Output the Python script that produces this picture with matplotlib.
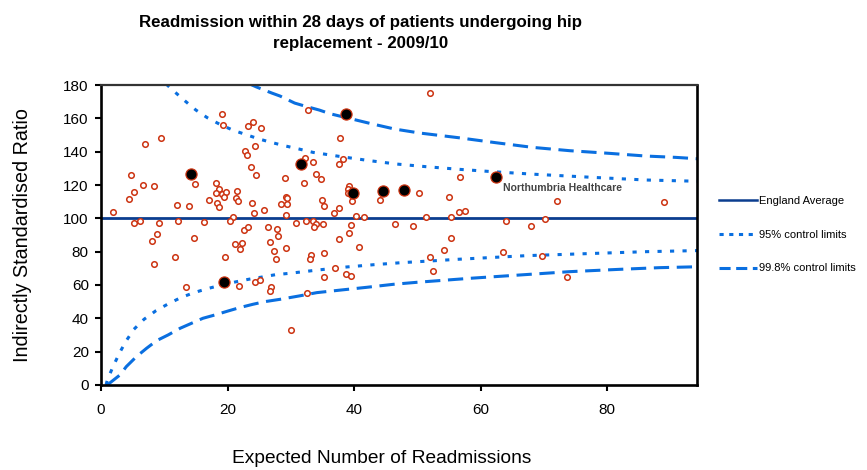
import matplotlib
matplotlib.use("Agg")
import matplotlib.pyplot as plt
from matplotlib.lines import Line2D

plt.rcParams['font.family'] = ['Liberation Sans', 'DejaVu Sans']
plt.rcParams['lines.scale_dashes'] = False

# hospital trusts: expected readmissions vs indirectly standardised ratio
expected = [19.07, 19.27, 23.17, 24.07, 25.27, 9.45, 6.97, 22.74, 23.12, 24.38,
            23.69, 24.54, 29.01, 4.76, 14.92, 6.66, 8.34, 5.14, 4.45, 18.17,
            18.68, 18.17, 19.12, 19.83, 19.42, 21.47, 21.36, 21.70, 17.07, 18.28,
            18.64, 12.02, 13.94, 1.92, 23.85, 24.16, 25.69, 28.49, 29.43, 29.16,
            29.32, 29.27, 20.80, 30.82, 5.14, 6.09, 9.24, 12.13, 16.31, 20.33,
            22.57, 23.20, 26.37, 27.78, 8.86, 8.08, 14.73, 21.17, 22.27, 21.91,
            26.75, 27.93, 27.27, 29.16, 27.70, 8.30, 11.70, 19.54, 13.50, 21.80,
            24.27, 25.17, 26.91, 26.64, 29.95, 51.92, 32.74, 37.73, 32.21, 33.58,
            38.20, 37.57, 32.05, 33.94, 34.73, 56.66, 39.21, 38.99, 38.99, 50.25,
            54.92, 35.00, 35.27, 37.68, 36.78, 39.73, 44.02, 40.25, 41.58, 51.29,
            55.39, 56.61, 57.51, 32.40, 33.47, 34.05, 33.63, 35.16, 39.57, 46.40,
            49.24, 39.26, 37.57, 40.84, 33.26, 33.06, 35.32, 55.30, 54.13, 52.03,
            52.46, 37.00, 38.79, 39.46, 35.21, 32.52, 72.02, 89.05, 63.97, 67.92,
            70.17, 63.50, 69.70, 73.60]
ratio = [162.6, 155.8, 155.2, 157.6, 154.2, 148.4, 144.4, 140.6, 138.2, 143.2,
         130.6, 126.2, 124.0, 126.2, 120.4, 119.8, 119.6, 116.0, 111.6, 121.0,
         117.6, 115.4, 114.9, 115.9, 113.0, 116.4, 112.2, 110.3, 111.1, 109.2,
         107.0, 108.2, 107.4, 104.0, 109.0, 103.2, 104.9, 108.6, 108.6, 112.7,
         112.0, 102.3, 100.8, 97.1, 97.4, 98.2, 97.4, 98.6, 97.9, 98.2,
         93.0, 94.7, 94.7, 93.5, 90.4, 86.6, 88.1, 84.6, 85.0, 81.8,
         85.6, 89.1, 80.2, 82.0, 75.6, 72.4, 76.6, 76.6, 59.0, 59.2,
         61.6, 63.2, 59.0, 56.2, 33.0, 175.0, 164.8, 148.0, 136.4, 133.7,
         135.9, 132.8, 121.4, 126.5, 123.6, 125.0, 119.7, 117.6, 115.0, 115.0,
         112.6, 111.2, 107.6, 106.0, 103.1, 110.4, 111.0, 101.6, 100.8, 101.0,
         100.8, 104.1, 104.2, 98.7, 98.3, 96.6, 95.0, 96.4, 95.8, 96.8,
         95.4, 91.4, 87.5, 83.0, 78.0, 75.6, 79.0, 88.4, 81.0, 76.6,
         68.2, 70.0, 66.8, 65.6, 65.0, 55.0, 110.6, 109.8, 98.2, 95.6,
         99.4, 80.0, 77.4, 64.8]

# highlighted trusts (filled black)
hl_expected = [14.16, 31.56, 38.74, 39.84, 44.57, 47.89, 62.40, 19.38]
hl_ratio = [126.8, 132.8, 162.8, 115.4, 116.6, 116.8, 124.6, 61.6]
hl_label = "Northumbria Healthcare"
hl_label_idx = 6

england_avg = 100

# control limits
u95_x = [10.3, 11.5, 13.3, 15.0, 16.8, 18.7, 20.8, 22.8, 25.0, 27.1, 29.2, 31.3,
         33.5, 38.0, 42.5, 46.7, 51.4, 56.7, 61.9, 68.8, 77.7, 86.2, 95.0]
u95_y = [180.6, 176.4, 170.4, 165.0, 160.4, 156.6, 153.0, 150.4, 147.6, 145.4,
         143.4, 141.6, 139.6, 137.0, 134.6, 132.6, 131.0, 129.4, 128.0, 126.4,
         124.6, 123.0, 122.2]
l95_x = [0.8, 1.0, 1.9, 2.9, 3.9, 5.2, 6.8, 8.7, 10.5, 12.6, 14.7, 16.8, 19.1,
         21.2, 23.3, 25.5, 27.6, 29.8, 34.3, 38.8, 43.2, 47.5, 52.0, 56.3, 67.2,
         78.3, 86.2, 95.0]
l95_y = [0, 3, 11, 19, 26, 33.4, 39.4, 44.6, 48.4, 52.4, 55.4, 57.8, 60.0, 61.8,
         63.4, 64.8, 66.2, 67.0, 69.0, 70.8, 72.2, 73.4, 74.4, 75.4, 77.6, 79.0,
         80.0, 80.7]
u998_x = [23.0, 24.6, 27.0, 28.3, 30.6, 32.2, 34.5, 36.2, 42.5, 46.4, 50.4, 56.5,
          62.4, 68.2, 74.1, 80.4, 86.1, 90.8, 95.0]
u998_y = [181.5, 178.8, 175.2, 173.4, 169.2, 167.4, 165.0, 162.8, 157.0, 153.6,
          151.2, 148.4, 145.4, 142.6, 140.6, 139.0, 137.4, 136.6, 135.6]
l998_x = [1.0, 3.0, 4.0, 5.6, 7.2, 8.8, 10.6, 12.5, 14.3, 16.1, 18.0, 20.1, 21.9,
          24.0, 25.9, 28.3, 31.3, 34.1, 38.0, 42.0, 46.2, 49.9, 54.1, 58.3, 66.2,
          74.1, 82.0, 88.3, 95.0]
l998_y = [0, 6, 11, 17, 22, 26.6, 30, 34, 37, 40, 42, 44.4, 46.4, 48.4, 50, 51.4,
          53.4, 55.4, 57, 58.6, 60.4, 61.6, 62.8, 64, 66, 68, 69.4, 70.4, 71]

navy = '#0b3d8f'
blue = '#0a6fe0'
red = '#cc3311'
dash95 = (0, (3.0, 6.0))
dash998 = (0, (11.0, 5.5))

fig = plt.figure(figsize=(8.67, 4.70), dpi=100)
ax = fig.add_axes([0.1165, 0.181, 0.6875, 0.638])

ax.axhline(england_avg, color=navy, lw=2.0, zorder=2)
ax.plot(u95_x, u95_y, color=blue, lw=2.2, linestyle=dash95, zorder=2)
ax.plot(l95_x, l95_y, color=blue, lw=2.2, linestyle=dash95, zorder=2)
ax.plot(u998_x, u998_y, color=blue, lw=2.2, linestyle=dash998, zorder=2)
ax.plot(l998_x, l998_y, color=blue, lw=2.2, linestyle=dash998, zorder=2)

ax.plot(expected, ratio, linestyle='none', marker='o', markersize=4.0,
        markerfacecolor='white', markeredgecolor=red, markeredgewidth=1.1, zorder=3)
ax.plot(hl_expected, hl_ratio, linestyle='none', marker='o', markersize=8,
        markerfacecolor='black', markeredgecolor=red, markeredgewidth=0.9, zorder=4)

ax.text(hl_expected[hl_label_idx] + 1.1, hl_ratio[hl_label_idx] - 6.4, hl_label,
        fontsize=7.5, fontweight='bold', color='#444444', ha='left', va='center')

ax.set_xlim(0, 94.2)
ax.set_ylim(0, 180)
ax.set_xticks([0, 20, 40, 60, 80])
ax.set_yticks(range(0, 181, 20))
ax.tick_params(axis='both', labelsize=11, direction='out', length=4.3, width=1.5)
ax.tick_params(axis='x', pad=8.5)
ax.tick_params(axis='y', pad=4.5)
for side in ['left', 'bottom', 'right']:
    ax.spines[side].set_linewidth(1.9)
ax.spines['top'].set_linewidth(1.6)
ax.spines['top'].set_color('#333333')

ax.set_xlabel('Expected Number of Readmissions', fontsize=13.8)
ax.xaxis.set_label_coords(0.471, -0.218)
ax.set_ylabel('Indirectly Standardised Ratio', fontsize=14.2)
ax.yaxis.set_label_coords(-0.115, 0.5)

fig.text(0.416, 1 - 33 / 470,
         'Readmission within 28 days of patients undergoing hip\nreplacement - 2009/10',
         ha='center', va='center', fontsize=12.2, fontweight='bold', linespacing=1.55)

handles = [Line2D([], [], color=navy, lw=1.8),
           Line2D([], [], color=blue, lw=2.2, linestyle=(0, (3.0, 4.0))),
           Line2D([], [], color=blue, lw=2.2, linestyle=(0, (8.0, 4.0)))]
labels = ['England Average', '95% control limits', '99.8% control limits']
fig.legend(handles, labels, loc='upper left', bbox_to_anchor=(0.818, 0.605),
           frameon=False, fontsize=8, handlelength=3.4, handletextpad=0.2,
           labelspacing=2.15)

fig.savefig('out.png', dpi=100)
